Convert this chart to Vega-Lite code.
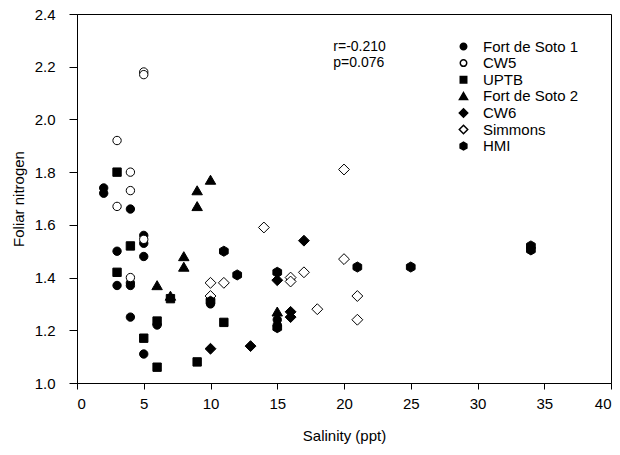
{
  "$schema": "https://vega.github.io/schema/vega-lite/v6.json",
  "width": 534,
  "height": 369,
  "autosize": {"type": "none"},
  "padding": {"left": 77, "top": 14, "right": 9, "bottom": 72},
  "config": {
    "font": "Liberation Sans",
    "view": {"stroke": "black", "strokeWidth": 1},
    "axis": {"grid": false, "domainColor": "black", "tickColor": "black", "labelColor": "black", "titleColor": "black", "labelFontSize": 15, "titleFontSize": 15, "titleFontWeight": "normal", "tickSize": 6, "labelPadding": 6}
  },
  "layer": [
    {
      "data": {"values": [
        {"site": "Fort de Soto 1", "sal": 2, "n": 1.74},
        {"site": "Fort de Soto 1", "sal": 2, "n": 1.72},
        {"site": "Fort de Soto 1", "sal": 3, "n": 1.50},
        {"site": "Fort de Soto 1", "sal": 3, "n": 1.37},
        {"site": "Fort de Soto 1", "sal": 4, "n": 1.66},
        {"site": "Fort de Soto 1", "sal": 4, "n": 1.38},
        {"site": "Fort de Soto 1", "sal": 4, "n": 1.37},
        {"site": "Fort de Soto 1", "sal": 4, "n": 1.25},
        {"site": "Fort de Soto 1", "sal": 5, "n": 1.56},
        {"site": "Fort de Soto 1", "sal": 5, "n": 1.53},
        {"site": "Fort de Soto 1", "sal": 5, "n": 1.48},
        {"site": "Fort de Soto 1", "sal": 5, "n": 1.11},
        {"site": "Fort de Soto 1", "sal": 6, "n": 1.22},
        {"site": "Fort de Soto 1", "sal": 10, "n": 1.30},
        {"site": "Fort de Soto 1", "sal": 15, "n": 1.24},
        {"site": "Fort de Soto 1", "sal": 15, "n": 1.22},
        {"site": "CW5", "sal": 5, "n": 2.18},
        {"site": "CW5", "sal": 5, "n": 2.17},
        {"site": "CW5", "sal": 3, "n": 1.92},
        {"site": "CW5", "sal": 4, "n": 1.80},
        {"site": "CW5", "sal": 4, "n": 1.73},
        {"site": "CW5", "sal": 3, "n": 1.67},
        {"site": "CW5", "sal": 5, "n": 1.545},
        {"site": "CW5", "sal": 4, "n": 1.40},
        {"site": "CW5", "sal": 10, "n": 1.32},
        {"site": "CW5", "sal": 16, "n": 1.39},
        {"site": "UPTB", "sal": 3, "n": 1.80},
        {"site": "UPTB", "sal": 4, "n": 1.52},
        {"site": "UPTB", "sal": 3, "n": 1.42},
        {"site": "UPTB", "sal": 5, "n": 1.17},
        {"site": "UPTB", "sal": 6, "n": 1.06},
        {"site": "UPTB", "sal": 6, "n": 1.235},
        {"site": "UPTB", "sal": 7, "n": 1.32},
        {"site": "UPTB", "sal": 9, "n": 1.08},
        {"site": "UPTB", "sal": 11, "n": 1.23},
        {"site": "Fort de Soto 2", "sal": 6, "n": 1.37},
        {"site": "Fort de Soto 2", "sal": 7, "n": 1.33},
        {"site": "Fort de Soto 2", "sal": 8, "n": 1.48},
        {"site": "Fort de Soto 2", "sal": 8, "n": 1.44},
        {"site": "Fort de Soto 2", "sal": 9, "n": 1.73},
        {"site": "Fort de Soto 2", "sal": 9, "n": 1.67},
        {"site": "Fort de Soto 2", "sal": 10, "n": 1.77},
        {"site": "Fort de Soto 2", "sal": 15, "n": 1.27},
        {"site": "CW6", "sal": 10, "n": 1.13},
        {"site": "CW6", "sal": 13, "n": 1.14},
        {"site": "CW6", "sal": 15, "n": 1.39},
        {"site": "CW6", "sal": 16, "n": 1.27},
        {"site": "CW6", "sal": 16, "n": 1.25},
        {"site": "CW6", "sal": 17, "n": 1.54},
        {"site": "Simmons", "sal": 10, "n": 1.38},
        {"site": "Simmons", "sal": 11, "n": 1.38},
        {"site": "Simmons", "sal": 10, "n": 1.33},
        {"site": "Simmons", "sal": 14, "n": 1.59},
        {"site": "Simmons", "sal": 16, "n": 1.40},
        {"site": "Simmons", "sal": 16, "n": 1.385},
        {"site": "Simmons", "sal": 17, "n": 1.42},
        {"site": "Simmons", "sal": 18, "n": 1.28},
        {"site": "Simmons", "sal": 20, "n": 1.81},
        {"site": "Simmons", "sal": 20, "n": 1.47},
        {"site": "Simmons", "sal": 21, "n": 1.33},
        {"site": "Simmons", "sal": 21, "n": 1.24},
        {"site": "HMI", "sal": 11, "n": 1.50},
        {"site": "HMI", "sal": 12, "n": 1.41},
        {"site": "HMI", "sal": 15, "n": 1.42},
        {"site": "HMI", "sal": 10, "n": 1.31},
        {"site": "HMI", "sal": 15, "n": 1.21},
        {"site": "HMI", "sal": 21, "n": 1.44},
        {"site": "HMI", "sal": 25, "n": 1.44},
        {"site": "HMI", "sal": 34, "n": 1.52},
        {"site": "HMI", "sal": 34, "n": 1.505}
      ]},
      "mark": {"type": "point", "filled": true, "stroke": "black", "strokeWidth": 1, "opacity": 1, "size": 70},
      "encoding": {
        "x": {"field": "sal", "type": "quantitative", "scale": {"domain": [0, 40], "nice": false, "zero": false}, "axis": {"values": [0,5,10,15,20,25,30,35,40], "title": "Salinity (ppt)", "titlePadding": 17, "labelPadding": 7}},
        "y": {"field": "n", "type": "quantitative", "scale": {"domain": [1.0, 2.4], "nice": false, "zero": false}, "axis": {"values": [1.0,1.2,1.4,1.6,1.8,2.0,2.2,2.4], "format": ".1f", "title": "Foliar nitrogen", "titlePadding": 8, "labelPadding": 14, "tickSize": 8}},
        "shape": {"field": "site", "type": "nominal", "title": null,
          "scale": {"domain": ["Fort de Soto 1", "CW5", "UPTB", "Fort de Soto 2", "CW6", "Simmons", "HMI"],
                    "range": ["circle", "circle", "square", "M0,-1.15L1.25,1L-1.25,1Z", "M0,-1.3L1.3,0L0,1.3L-1.3,0Z", "M0,-1.3L1.3,0L0,1.3L-1.3,0Z", "M0,-1.2L1.04,-0.6L1.04,0.6L0,1.2L-1.04,0.6L-1.04,-0.6Z"]},
          "legend": {"orient": "none", "legendX": 379, "legendY": 25, "labelFontSize": 15, "symbolSize": 42, "rowPadding": 0.6, "labelOffset": 12, "labelColor": "black",
            "encode": {"symbols": {"update": {"stroke": {"value": "black"}, "strokeWidth": {"value": 1}}}}}},
        "fill": {"field": "site", "type": "nominal", "title": null,
          "scale": {"domain": ["Fort de Soto 1", "CW5", "UPTB", "Fort de Soto 2", "CW6", "Simmons", "HMI"],
                    "range": ["black", "white", "black", "black", "black", "white", "black"]},
          "legend": {"orient": "none", "legendX": 379, "legendY": 25, "labelFontSize": 15, "symbolSize": 42, "rowPadding": 0.6, "labelOffset": 12, "labelColor": "black",
            "encode": {"symbols": {"update": {"stroke": {"value": "black"}, "strokeWidth": {"value": 1}}}}}}
      }
    },
    {
      "data": {"values": [
        {"label": "r=-0.210", "sal": 19.2, "n": 2.276},
        {"label": "p=0.076", "sal": 19.2, "n": 2.213}
      ]},
      "mark": {"type": "text", "align": "left", "baseline": "middle", "fontSize": 14, "color": "black"},
      "encoding": {
        "x": {"field": "sal", "type": "quantitative"},
        "y": {"field": "n", "type": "quantitative"},
        "text": {"field": "label"}
      }
    }
  ]
}
